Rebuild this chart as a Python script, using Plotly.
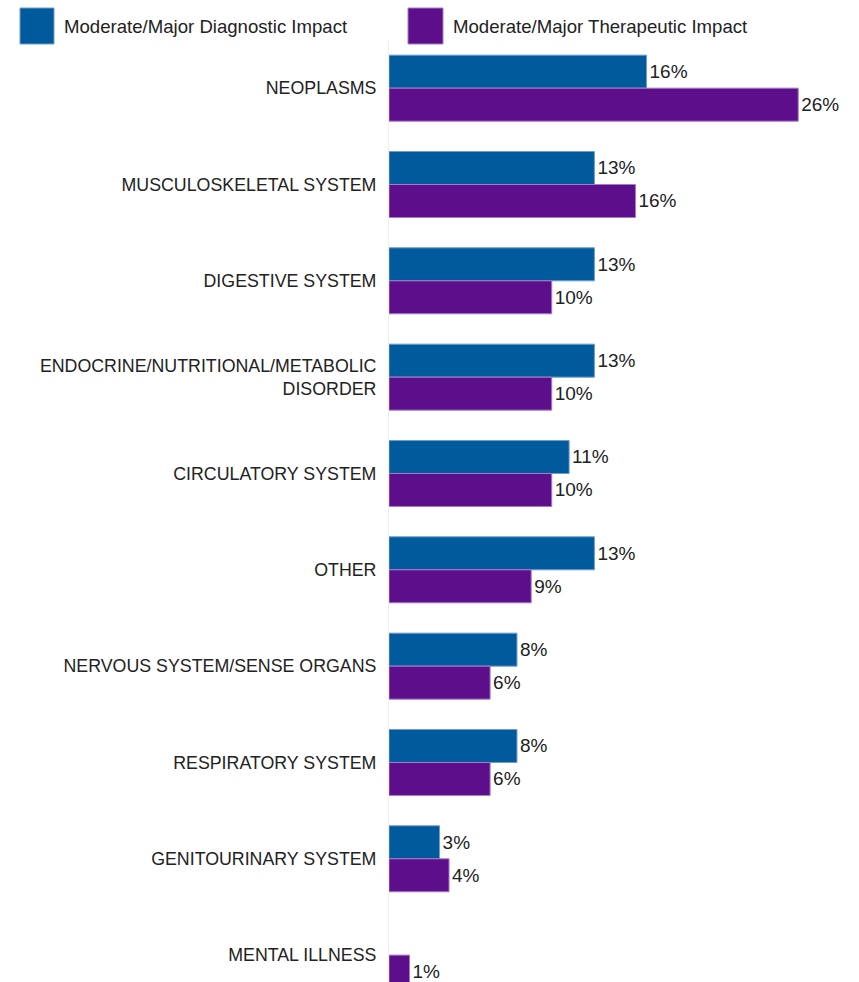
import plotly.graph_objects as go

categories = [
    "NEOPLASMS",
    "MUSCULOSKELETAL SYSTEM",
    "DIGESTIVE SYSTEM",
    "ENDOCRINE/NUTRITIONAL/METABOLIC<br>DISORDER",
    "CIRCULATORY SYSTEM",
    "OTHER",
    "NERVOUS SYSTEM/SENSE ORGANS",
    "RESPIRATORY SYSTEM",
    "GENITOURINARY SYSTEM",
    "MENTAL ILLNESS",
]
diagnostic = [16.3, 13.0, 13.0, 13.0, 11.4, 13.0, 8.1, 8.1, 3.2, None]
therapeutic = [25.9, 15.6, 10.3, 10.3, 10.3, 9.0, 6.4, 6.4, 3.8, 1.3]
series_names = ["Moderate/Major Diagnostic Impact", "Moderate/Major Therapeutic Impact"]

BLUE = "#005a9b"
BLUE_EDGE = "#6f9ccc"
PURPLE = "#5d0e8b"
PURPLE_EDGE = "#a47cc6"
FONT = "Liberation Sans, Arial, sans-serif"
TXT = "#222222"

W, H = 859, 982
ML, MT, MR, MB = 389, 40, 0, 0
PW, PH = W - ML - MR, H - MT - MB


def px_x(px):
    return (px - ML) / PW


def px_y(py):
    return 1 - (py - MT) / PH


fig = go.Figure()
for name, vals, col, edge in [
    (series_names[0], diagnostic, BLUE, BLUE_EDGE),
    (series_names[1], therapeutic, PURPLE, PURPLE_EDGE),
]:
    fig.add_trace(go.Bar(
        y=categories, x=vals, orientation="h", name=name,
        marker=dict(color=col, line=dict(color=edge, width=1)),
        texttemplate="%{x:.0f}%", textposition="outside",
        textfont=dict(family=FONT, size=19, color=TXT),
        cliponaxis=False, showlegend=False,
    ))

# legend drawn as swatches + labels
for (x0, x1, tx), name, col, edge in [
    ((20, 54, 62), series_names[0], BLUE, BLUE_EDGE),
    ((408, 443, 451), series_names[1], PURPLE, PURPLE_EDGE),
]:
    fig.add_shape(type="rect", xref="paper", yref="paper",
                  x0=px_x(x0), x1=px_x(x1), y0=px_y(44), y1=px_y(8),
                  fillcolor=col, line=dict(color=edge, width=1))
    fig.add_annotation(xref="paper", yref="paper", x=px_x(tx), y=px_y(27),
                       xanchor="left", yanchor="middle", showarrow=False,
                       text=name, font=dict(family=FONT, size=18.6, color=TXT))

fig.update_layout(
    width=W, height=H,
    margin=dict(l=ML, r=MR, t=MT, b=MB, pad=0),
    barmode="group", bargap=0.315, bargroupgap=0,
    plot_bgcolor="white", paper_bgcolor="white",
    font=dict(family=FONT, size=18, color=TXT),
)
fig.update_xaxes(range=[0, PW / 15.8], showgrid=False, zeroline=False,
                 showticklabels=False, showline=False, fixedrange=True)
fig.update_yaxes(range=[9.279, -0.5], showgrid=False, zeroline=False,
                 showline=True, linecolor="#eeeeee", linewidth=1,
                 ticks="outside", ticklen=8, tickcolor="rgba(0,0,0,0)",
                 tickfont=dict(family=FONT, size=17.8, color=TXT),
                 automargin=False, type="category", fixedrange=True)

fig.write_html("out.html", config={"displayModeBar": False},
               post_script="document.body.style.margin='0';")
